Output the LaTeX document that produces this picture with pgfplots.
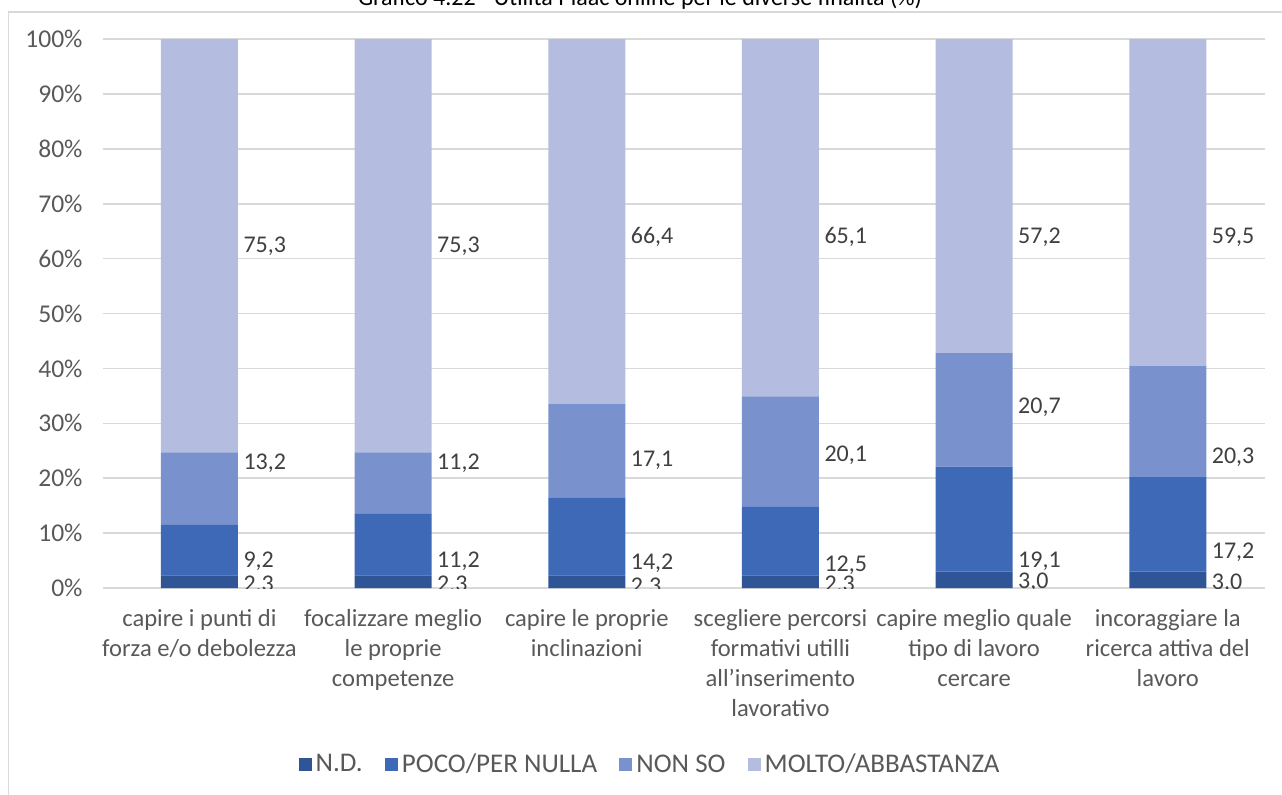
\documentclass[border=0pt]{standalone}
\usepackage{pgfplots}
\pgfplotsset{compat=1.18}
\usepackage{fontspec}
\setmainfont{Carlito}
\definecolor{cND}{HTML}{2F5597}
\definecolor{cPoco}{HTML}{3E69B6}
\definecolor{cNonso}{HTML}{7992CE}
\definecolor{cMolto}{HTML}{B4BDE0}
\definecolor{gridc}{HTML}{D9D9D9}
\definecolor{tickc}{HTML}{595959}
\definecolor{labc}{HTML}{404040}
\begin{document}
\begin{tikzpicture}
% page = 1282 x 794 px, 1 px = 0.5 pt
\useasboundingbox (0,0) rectangle (641pt,-397pt);
\draw[gridc, line width=0.8pt] (4.3pt,-400pt) -- (4.3pt,-6pt) -- (650pt,-6pt);
\node[anchor=base, font=\fontsize{12}{14}\selectfont, text=black] at (320pt,-2.5pt)
  {Grafico 4.22 - Utilità Piaac online per le diverse finalità (\%)};
\begin{axis}[
    at={(51.3pt,-294pt)}, anchor=south west,
    scale only axis,
    width=581pt, height=274.5pt,
    ybar stacked,
    bar width=38.5pt,
    xmin=-0.5, xmax=5.5,
    ymin=0, ymax=100,
    enlargelimits=false,
    axis line style={draw=none},
    major tick length=0pt,
    ymajorgrids,
    grid style={gridc, line width=0.8pt},
    ytick={0,10,...,100},
    yticklabels={0\%,10\%,20\%,30\%,40\%,50\%,60\%,70\%,80\%,90\%,100\%},
    yticklabel style={font=\fontsize{12.8}{14}\selectfont, text=tickc, xshift=-6.5pt},
    xtick={0,...,5},
    xticklabels={
      {capire i punti di\\forza e/o debolezza},
      {focalizzare meglio\\le proprie\\competenze},
      {capire le proprie\\inclinazioni},
      {scegliere percorsi\\formativi utilli\\all'inserimento\\lavorativo},
      {capire meglio quale\\tipo di lavoro\\cercare},
      {incoraggiare la\\ricerca attiva del\\lavoro}},
    xticklabel style={font=\fontsize{12.3}{15}\selectfont, text=tickc, align=center, yshift=-7pt},
    legend image code/.code={\fill[#1] (0pt,-3.3pt) rectangle (6.6pt,3.3pt);},
    legend style={at={(0.472,-0.322)}, anchor=center, draw=none,
      font=\fontsize{13.5}{15}\selectfont, text=tickc,
      /tikz/every even column/.append style={column sep=9pt}},
    legend columns=4,
]
\addplot[fill=cND, draw=none] coordinates {(0,2.3) (1,2.3) (2,2.3) (3,2.3) (4,3.0) (5,3.0)};
\addlegendentry{N.D.}
\addplot[fill=cPoco, draw=none] coordinates {(0,9.2) (1,11.2) (2,14.2) (3,12.5) (4,19.1) (5,17.2)};
\addlegendentry{POCO/PER NULLA}
\addplot[fill=cNonso, draw=none] coordinates {(0,13.2) (1,11.2) (2,17.1) (3,20.1) (4,20.7) (5,20.3)};
\addlegendentry{NON SO}
\addplot[fill=cMolto, draw=none] coordinates {(0,75.3) (1,75.3) (2,66.4) (3,65.1) (4,57.2) (5,59.5)};
\addlegendentry{MOLTO/ABBASTANZA}

% data labels, placed right of the bars as in the original
\tikzset{dl/.style={anchor=west, xshift=2.5pt, inner sep=0pt, font=\fontsize{12}{14}\selectfont, text=labc}}
\node[dl] at (axis cs:0.2,62.3) {75,3};
\node[dl] at (axis cs:0.2,22.8) {13,2};
\node[dl] at (axis cs:0.2,4.8) {9,2};
\node[dl] at (axis cs:0.2,0.5) {2,3};
\node[dl] at (axis cs:1.2,62.3) {75,3};
\node[dl] at (axis cs:1.2,22.8) {11,2};
\node[dl] at (axis cs:1.2,4.8) {11,2};
\node[dl] at (axis cs:1.2,0.5) {2,3};
\node[dl] at (axis cs:2.2,63.9) {66,4};
\node[dl] at (axis cs:2.2,23.3) {17,1};
\node[dl] at (axis cs:2.2,4.6) {14,2};
\node[dl] at (axis cs:2.2,0.2) {2,3};
\node[dl] at (axis cs:3.2,63.9) {65,1};
\node[dl] at (axis cs:3.2,24.2) {20,1};
\node[dl] at (axis cs:3.2,4.2) {12,5};
\node[dl] at (axis cs:3.2,0.5) {2,3};
\node[dl] at (axis cs:4.2,63.9) {57,2};
\node[dl] at (axis cs:4.2,33.0) {20,7};
\node[dl] at (axis cs:4.2,4.8) {19,1};
\node[dl] at (axis cs:4.2,1.1) {3,0};
\node[dl] at (axis cs:5.2,63.9) {59,5};
\node[dl] at (axis cs:5.2,23.9) {20,3};
\node[dl] at (axis cs:5.2,6.6) {17,2};
\node[dl] at (axis cs:5.2,0.9) {3,0};
\end{axis}
\end{tikzpicture}
\end{document}
